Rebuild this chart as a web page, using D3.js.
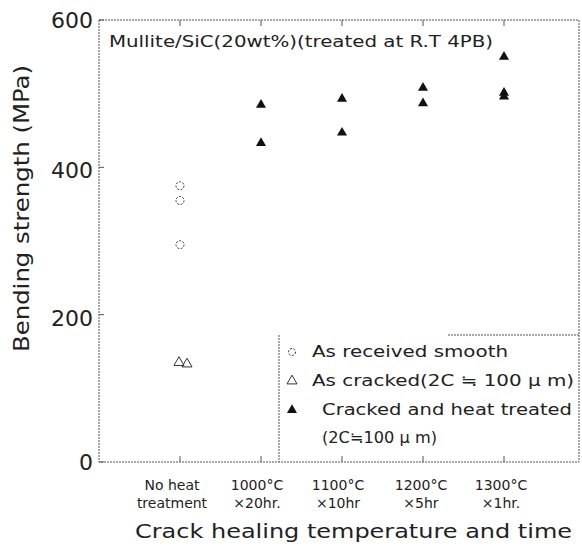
<!DOCTYPE html>
<html><head><meta charset="utf-8">
<script src="https://cdn.jsdelivr.net/npm/d3@7"></script>
<style>body{margin:0;background:#fff}svg{display:block}text{font-family:"DejaVu Sans",Arial,sans-serif;fill:#222}</style>
</head><body><svg id="c" width="582" height="555"></svg>
<script>
const categories = [["No heat","treatment"],["1000°C","×20hr."],["1100°C","×10hr"],["1200°C","×5hr"],["1300°C","×1hr."]];
const yTicks = [0,200,400,600];
// As received smooth (category index, MPa)
const smoothCat = [0,0,0];
const smoothVal = [375,355,295];
// As cracked
const crackedCat = [0,0];
const crackedVal = [135,133];
// Cracked and heat treated
const healedCat = [1,1,2,2,3,3,4,4,4];
const healedVal = [485,433,493,447,508,487,550,501,496];
const legendLabels = [["As received smooth"],["As cracked(2C ≒ 100 μ m)"],["Cracked and heat treated","(2C≒100 μ m)"]];

const svg = d3.select("#c");
const L=99, R=579, T=20, B=462;
const x = d3.scaleLinear().domain([0,6]).range([L, L+81*6]);
const y = d3.scaleLinear().domain([0,600]).range([B,T]);
const line = "#555";
const fit = "spacingAndGlyphs";

// frame
svg.append("rect").attr("x",L).attr("y",T).attr("width",R-L).attr("height",B-T)
  .attr("fill","none").attr("stroke",line).attr("stroke-width",1).attr("stroke-dasharray","2,1");

// y axis ticks & labels
const ya = svg.append("g");
yTicks.forEach(v=>{
  ya.append("line").attr("x1",L).attr("x2",L+5).attr("y1",y(v)).attr("y2",y(v)).attr("stroke",line);
  ya.append("text").attr("x",93).attr("y",y(v)+(v==400?3:v==200?3:0)).attr("dy","0.36em").attr("text-anchor","end")
    .attr("font-size",22).text(v);
});

// x ticks and labels
const labelShift = [-8,-4,-4,-2,-3];
categories.forEach((c,i)=>{
  const cx = x(i+1);
  svg.append("line").attr("x1",cx).attr("x2",cx).attr("y1",B).attr("y2",B-6).attr("stroke",line);
  svg.append("line").attr("x1",cx).attr("x2",cx).attr("y1",T).attr("y2",T+6).attr("stroke",line);
  c.forEach((t,j)=>svg.append("text").attr("x",cx+labelShift[i]).attr("y",490+j*18).attr("text-anchor","middle")
    .attr("font-size",14).text(t));
});

// axis titles
svg.append("text").attr("x",135).attr("y",538).attr("font-size",20)
  .attr("textLength",437).attr("lengthAdjust",fit)
  .text("Crack healing temperature and time");
svg.append("text").attr("transform","translate(29,352) rotate(-90)")
  .attr("font-size",21).attr("textLength",287).attr("lengthAdjust",fit)
  .text("Bending strength (MPa)");

// inner title
svg.append("text").attr("x",109).attr("y",47).attr("font-size",16)
  .attr("textLength",384).attr("lengthAdjust",fit)
  .text("Mullite/SiC(20wt%)(treated at R.T 4PB)");

// markers
const tri = d3.symbol().type(d3.symbolTriangle).size(44);
svg.append("g").selectAll("circle").data(smoothVal).join("circle")
  .attr("cx",(d,i)=>x(smoothCat[i]+1)).attr("cy",d=>y(d)).attr("r",4)
  .attr("fill","none").attr("stroke","#333").attr("stroke-width",1).attr("stroke-dasharray","2,1.5");
svg.append("g").selectAll("path").data(crackedVal).join("path")
  .attr("d",tri).attr("transform",(d,i)=>`translate(${x(crackedCat[i]+1)+(i?7:-1)},${y(d)})`)
  .attr("fill","none").attr("stroke","#333").attr("stroke-width",1);
svg.append("g").selectAll("path").data(healedVal).join("path")
  .attr("d",tri).attr("transform",(d,i)=>`translate(${x(healedCat[i]+1)},${y(d)})`)
  .attr("fill","#111");

// legend box
svg.append("line").attr("x1",279).attr("x2",279).attr("y1",335).attr("y2",B).attr("stroke",line).attr("stroke-dasharray","2,1");
svg.append("line").attr("x1",448).attr("x2",R).attr("y1",335).attr("y2",335).attr("stroke",line).attr("stroke-dasharray","2,1");
const lg = svg.append("g");
const ly = [352,381,410];
lg.append("circle").attr("cx",292).attr("cy",ly[0]).attr("r",3.5).attr("fill","none").attr("stroke","#333").attr("stroke-dasharray","2,1.5");
lg.append("path").attr("d",tri).attr("transform",`translate(292,${ly[1]})`).attr("fill","none").attr("stroke","#333");
lg.append("path").attr("d",tri).attr("transform",`translate(292,${ly[2]})`).attr("fill","#111");
const lw = [[196],[262],[250,115]];
legendLabels.forEach((ls,i)=>ls.forEach((t,j)=>lg.append("text").attr("x",i==2?322:312).attr("y",ly[i]+j*28)
  .attr("dy","0.36em").attr("font-size",15).attr("textLength",lw[i][j]).attr("lengthAdjust",fit).text(t)));
</script></body></html>
